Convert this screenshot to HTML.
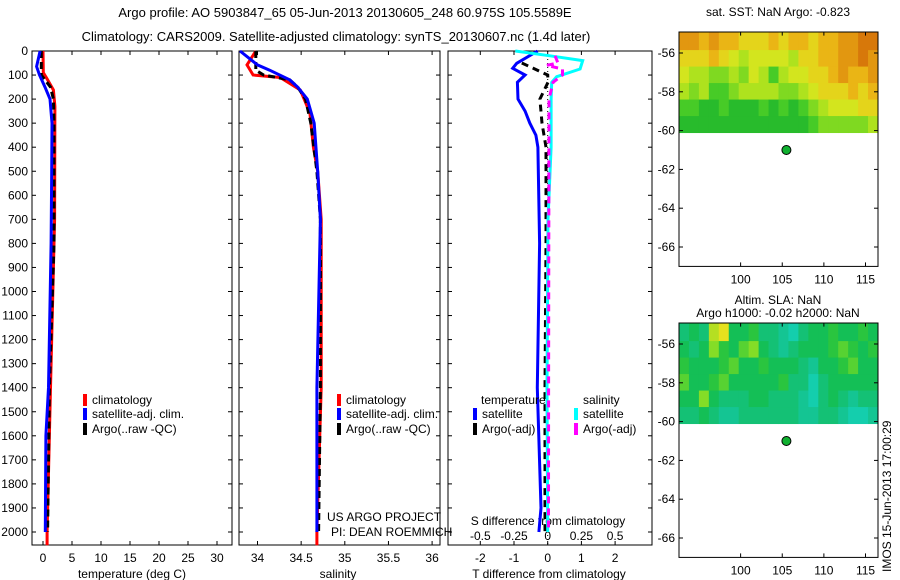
<!DOCTYPE html>
<html><head><meta charset="utf-8"><style>
body{margin:0;background:#fff;}
svg{display:block;font-family:"Liberation Sans",sans-serif;}
text{font-size:12px;fill:#000;}
</style></head><body>
<svg id="c" width="900" height="580"></svg>
<script>
// ---- data ----
const depthTicks=[0,100,200,300,400,500,600,700,800,900,1000,1100,1200,1300,1400,1500,1600,1700,1800,1900,2000];
const tempTicks=[0,5,10,15,20,25,30];
const salTicks=[34,34.5,35,35.5,36];
const salTickLabels=["34","34.5","35","35.5","36"];
const tdiffTicks=[-2,-1,0,1,2];
const sdiffTicks=[-0.5,-0.25,0,0.25,0.5];
const sdiffTickLabels=["-0.5","-0.25","0","0.25","0.5"];
const tempClimDepth=[0,90,112,162,230,700,1400,2000,2055];
const tempClim=[0,0.05,0.6,1.8,2.05,2.0,1.3,0.7,0.7];
const tempSatDepth=[0,65,100,150,200,300,500,800,1400,1600,2000];
const tempSat=[-0.5,-1.1,-0.6,0.35,1.2,1.55,1.5,1.4,0.95,0.5,0.4];
const tempArgoDepth=[0,100,150,200,300,800,1400,2000];
const tempArgo=[-0.3,-0.3,1.3,1.8,1.9,1.9,1.1,0.8];
const salClimDepth=[0,58,100,110,162,204,258,400,500,700,1400,2000,2055];
const salClim=[33.98,33.88,33.95,34.26,34.49,34.54,34.6,34.64,34.69,34.73,34.73,34.68,34.68];
const salSatDepth=[0,58,80,120,150,200,300,500,700,1400,2000];
const salSat=[33.8,34.0,34.14,34.37,34.46,34.57,34.65,34.69,34.72,34.68,34.68];
const salArgoDepth=[0,80,100,120,150,200,300,500,700,1400,2000];
const salArgo=[33.98,33.98,34.07,34.37,34.46,34.55,34.61,34.68,34.72,34.72,34.7];
const tdSatDepth=[0,51,72,100,130,200,250,300,350,400,800,1400,1900,2000];
const tdSat=[-0.3,-0.92,-1.04,-0.67,-0.9,-0.88,-0.67,-0.53,-0.35,-0.29,-0.24,-0.31,-0.2,-0.26];
const tdArgoDepth=[50,100,130,200,300,400,800,1400,2000];
const tdArgo=[-0.77,0,0.01,-0.23,-0.17,-0.05,-0.05,-0.08,-0.08];
const sdSatDepth=[0,20,40,75,107,130,200,400,700,1400,2000];
const sdSat=[-0.24,0.017,0.26,0.24,0.067,0.03,0.025,0.025,0.002,-0.005,0];
const sdArgoDepth=[20,50,60,75,100,130,200,1400,2000];
const sdArgo=[0.055,0.076,-0.008,0.11,0.11,0.04,0.01,0.007,0.006];
const mapLonTicks=[100,105,110,115];
const mapLatTicks=[-56,-58,-60,-62,-64,-66];
const sstGrid=[
[8,8,7,8,7,7,6,6,6,7,6,7,7,6,7,7,8,8,9,9],
[6,6,6,7,6,5,4,5,5,5,5,4,6,6,7,7,8,8,9,8],
[5,4,4,3,3,4,3,5,4,2,4,5,5,6,6,7,8,7,7,8],
[4,3,4,2,2,3,4,4,4,4,3,3,4,5,6,6,6,7,6,7],
[2,2,1,1,2,1,1,1,2,1,2,1,2,3,4,5,5,5,6,6],
[1,1,1,1,1,1,1,1,1,1,1,1,1,2,3,3,3,3,3,4]];
const slaGrid=[
[3,4,3,8,9,4,4,5,3,3,2,1,3,4,4,5,4,4,5,4],
[4,3,4,7,5,4,6,7,4,3,2,3,4,4,4,5,6,5,4,5],
[5,4,4,4,5,6,4,4,5,4,4,4,3,2,4,4,5,6,4,4],
[6,4,4,5,6,4,4,4,4,4,5,3,3,1,3,4,4,4,4,4],
[4,4,7,4,3,3,3,4,4,3,3,3,2,1,3,4,3,2,3,3],
[3,3,4,3,2,2,3,3,3,3,3,3,2,2,3,3,2,1,1,2]];
const floatLon=[105.5];
const floatLat=[-61];

// ---- helpers ----
const NS="http://www.w3.org/2000/svg";
const svg=document.getElementById('c');
function mk(tag,attrs,parent){const e=document.createElementNS(NS,tag);for(const k in attrs)e.setAttribute(k,attrs[k]);(parent||svg).appendChild(e);return e;}
function txt(x,y,s,anchor,parent){const t=mk('text',{x:x,y:y,'text-anchor':anchor||'start'},parent);t.textContent=s;return t;}
const yD=d=>51+d*0.2405;
const xT=v=>43+v*5.8;
const xS=v=>257.5+(v-34)*87.3;
const xTD=v=>547.7+v*33.7;
const xSD=v=>547.7+v*134.8;

function frame(x0,x1,name){
  const r=mk('rect',{x:x0,y:51,width:x1-x0,height:545-51,fill:'none',stroke:'#000','stroke-width':1});
  
  
  depthTicks.forEach(d=>{mk('line',{x1:x0,x2:x0+4,y1:yD(d),y2:yD(d),stroke:'#000'});mk('line',{x1:x1,x2:x1-4,y1:yD(d),y2:yD(d),stroke:'#000'});});
}
function profile(depths,vals,xf,color,dash,name){
  const pts=depths.map((d,i)=>xf(vals[i]).toFixed(1)+','+yD(d).toFixed(1)).join(' ');
  const p=mk('polyline',{points:pts,fill:'none',stroke:color,'stroke-width':3,'stroke-dasharray':dash||'none'});
  
  
}
function xticks(ticks,labels,xf,x0,x1,y){
  ticks.forEach((t,i)=>{const x=xf(t);if(x<x0||x>x1)return;mk('line',{x1:x,x2:x,y1:545,y2:541,stroke:'#000'});mk('line',{x1:x,x2:x,y1:51,y2:55,stroke:'#000'});txt(x,y,labels[i],'middle');});
}

// title
const t1=txt(345,17,"Argo profile: AO 5903847_65 05-Jun-2013 20130605_248 60.975S 105.5589E",'middle');
t1.style.fontSize='13px';
const t2=txt(336,41,"Climatology: CARS2009. Satellite-adjusted climatology: synTS_20130607.nc (1.4d later)",'middle');
t2.style.fontSize='13px';

// panel 1
frame(32,232,'temperature-panel');
depthTicks.forEach(d=>txt(28,yD(d)+4,String(d),'end'));
xticks(tempTicks,tempTicks.map(String),xT,32,232,562);
txt(132,578,"temperature (deg C)",'middle');
profile(tempClimDepth,tempClim,xT,'#ff0000',null,'temp-climatology-line');
profile(tempArgoDepth,tempArgo,xT,'#000','7,4','temp-argo-line');
profile(tempSatDepth,tempSat,xT,'#0000ff',null,'temp-satellite-line');

// panel 2
frame(239,440,'salinity-panel');
xticks(salTicks,salTickLabels,xS,239,440,562);
txt(338,578,"salinity",'middle');
profile(salClimDepth,salClim,xS,'#ff0000',null,'sal-climatology-line');
profile(salArgoDepth,salArgo,xS,'#000','7,4','sal-argo-line');
profile(salSatDepth,salSat,xS,'#0000ff',null,'sal-satellite-line');

// panel 3
frame(448,652,'difference-panel');
mk('line',{x1:xTD(0),x2:xTD(0),y1:51,y2:545,stroke:'#000','stroke-dasharray':'1,3'});
xticks(tdiffTicks,tdiffTicks.map(String),xTD,448,652,562);
txt(549,578,"T difference from climatology",'middle');
txt(548,525,"S difference from climatology",'middle');
sdiffTicks.forEach((t,i)=>txt(xSD(t),540,sdiffTickLabels[i],'middle'));
profile(tdSatDepth,tdSat,xTD,'#0000ff',null,'tdiff-satellite-line');
profile(tdArgoDepth,tdArgo,xTD,'#000','7,5','tdiff-argo-line');
profile(sdSatDepth,sdSat,xSD,'#00ffff',null,'sdiff-satellite-line');
profile(sdArgoDepth,sdArgo,xSD,'#ff00ff','7,5','sdiff-argo-line');

// legends
function legItem(x,y,color,label,name){
  const g=mk('g',{});
  mk('rect',{x:x,y:y-10,width:4,height:12,fill:color},g);txt(x+9,y,label,'start',g);
}
legItem(83,404,'#ff0000','climatology','legend-climatology');
legItem(83,418,'#0000ff','satellite-adj. clim.','legend-satellite-adj');
legItem(83,433,'#000','Argo(..raw -QC)','legend-argo');
legItem(337,404,'#ff0000','climatology','legend2-climatology');
legItem(337,418,'#0000ff','satellite-adj. clim.','legend2-satellite-adj');
legItem(337,433,'#000','Argo(..raw -QC)','legend2-argo');
txt(481,404,'temperature');txt(583,404,'salinity');
legItem(473,418,'#0000ff','satellite','legend-t-satellite');
legItem(473,433,'#000','Argo(-adj)','legend-t-argo');
legItem(574,418,'#00ffff','satellite','legend-s-satellite');
legItem(574,433,'#ff00ff','Argo(-adj)','legend-s-argo');
txt(327,521,'US ARGO PROJECT');txt(331,536,'PI: DEAN ROEMMICH');

// maps
const LON0=92.6,LON1=116.5;
const mLonX=lon=>679+(lon-LON0)*(199/(LON1-LON0));
function sstColor(v){const stops=[[16,170,48],[60,200,40],[160,225,30],[225,230,30],[235,175,20],[215,120,10]];const f=v/9*(stops.length-1);const i=Math.min(Math.floor(f),stops.length-2);const r=f-i;const c=stops[i].map((a,k)=>Math.round(a+(stops[i+1][k]-a)*r));return `rgb(${c})`;}
function slaColor(v){const stops=[[20,215,200],[20,195,140],[20,190,70],[120,220,40],[230,225,30]];const f=v/9*(stops.length-1);const i=Math.min(Math.floor(f),stops.length-2);const r=f-i;const c=stops[i].map((a,k)=>Math.round(a+(stops[i+1][k]-a)*r));return `rgb(${c})`;}
function map(topY,grid,colorFn,name,titles,titleY){
  const yL=lat=>topY+(-55-lat)*19.4+1.6;
  const g=mk('g',{});
  const rows=grid.length,cols=grid[0].length;
  const lonStep=(LON1-LON0)/cols,latStep=5.1/rows;
  grid.forEach((row,ri)=>row.forEach((v,ci)=>{
    const x=mLonX(LON0+ci*lonStep),y=yL(-55-ri*latStep);
    const x2=mLonX(LON0+(ci+1)*lonStep),y2=yL(-55-(ri+1)*latStep);
    mk('rect',{x:x,y:(ri==0?y-1.6:y),width:x2-x+0.5,height:y2-y+0.5+(ri==0?1.6:0),fill:colorFn(v)},g);
  }));
  mk('rect',{x:679,y:yL(-55)-1.6,width:199,height:yL(-67)-yL(-55)+1.6,fill:'none',stroke:'#000'},g);
  mapLatTicks.forEach(l=>{mk('line',{x1:679,x2:683,y1:yL(l),y2:yL(l),stroke:'#000'},g);mk('line',{x1:878,x2:874,y1:yL(l),y2:yL(l),stroke:'#000'},g);txt(675,yL(l)+4,String(l),'end',g);});
  const bot=yL(-67);
  mapLonTicks.forEach(l=>{const x=mLonX(l);mk('line',{x1:x,x2:x,y1:bot,y2:bot-4,stroke:'#000'},g);mk('line',{x1:x,x2:x,y1:yL(-55)-1.6,y2:yL(-55)+2,stroke:'#000'},g);txt(x,bot+17,String(l),'middle',g);});
  floatLon.forEach((lo,i)=>{const d=mk('circle',{cx:mLonX(lo),cy:yL(floatLat[i]),r:4.5,fill:'#10b030',stroke:'#000'},g);});
  titles.forEach((s,i)=>txt(778,titleY+i*13,s,'middle',g));
}
map(32,sstGrid,sstColor,'sst-map',["sat. SST: NaN Argo: -0.823"],16);
map(323,slaGrid,slaColor,'sla-map',["Altim. SLA: NaN","Argo h1000: -0.02 h2000: NaN"],304);
const v=txt(0,0,'IMOS 15-Jun-2013 17:00:29','start');
v.setAttribute('transform','translate(891,572) rotate(-90)');

</script>
</body></html>
